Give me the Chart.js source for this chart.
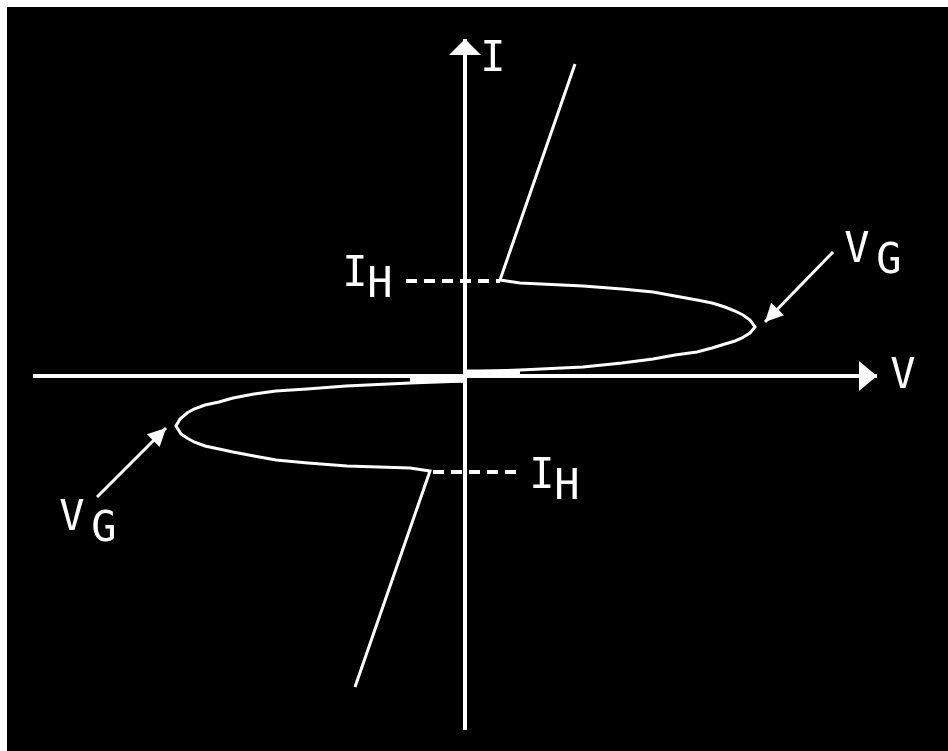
<!DOCTYPE html>
<html lang="en">
<head>
    <meta charset="UTF-8">
    <title>Characteristic I-V</title>
    <style>
        * {
            margin: 0;
            padding: 0;
            box-sizing: border-box;
        }

        body {
            background-color: #ffffff;
            width: 948px;
            height: 751px;
            overflow: hidden;
        }

        .chart-box {
            position: absolute;
            left: 7px;
            top: 7px;
            width: 941px;
            height: 744px;
            background-color: #000000;
        }
    </style>
</head>
<body>

    <div class="chart-box">
        <canvas id="ivChart"></canvas>
    </div>

    <script src="https://cdn.jsdelivr.net/npm/chart.js"></script>
    <script>
        // Ramo superior (1º quadrante): subida íngreme, laço até VG, retorno à origem
        const upperV = [11.0, 3.5, 5.5, 11.8, 15.7, 18.8, 21.0, 23.2, 24.7, 26.0, 27.0, 27.8, 28.5, 29.0,
                        28.5, 27.7, 27.0, 26.0, 24.7, 23.2, 21.0, 18.8, 15.7, 11.8, 5.5, 0];
        const upperI = [31.2, 9.6, 9.3, 9.0, 8.7, 8.4, 8.0, 7.6, 7.3, 6.9, 6.5, 6.1, 5.6, 4.9,
                        4.3, 3.8, 3.5, 3.2, 2.8, 2.4, 2.1, 1.7, 1.3, 0.9, 0.6, 0.4];

        // Ramo inferior (3º quadrante)
        const lowerV = [-11.0, -3.5, -5.5, -11.8, -15.7, -18.9, -21.1, -23.2, -24.6, -26.0, -27.1, -27.8, -28.4, -28.9,
                        -28.5, -27.8, -27.1, -26.0, -24.6, -23.2, -21.1, -18.9, -15.8, -11.9, -5.5, 0];
        const lowerI = [-31.1, -9.5, -9.2, -9.0, -8.7, -8.4, -8.0, -7.6, -7.3, -7.0, -6.6, -6.2, -5.8, -5.0,
                        -4.3, -3.7, -3.3, -2.9, -2.6, -2.2, -1.8, -1.5, -1.3, -1.0, -0.7, -0.5];

        // Corrente de manutenção IH e trechos junto à origem
        const holdV = [[-5.9, 3.5], [-3.2, 5.8]];
        const holdI = [9.5, -9.6];
        const baseV = [[0, 5.5], [-5.5, 0]];
        const baseI = [0.35, -0.35];

        // Eixos
        const axisV = [-43.2, 41.2];
        const axisI = [-35.4, 33.7];

        // Setas indicando VG (início -> ponta)
        const pointerV = [[36.8, 30.0], [-36.8, -29.9]];
        const pointerI = [[12.4, 5.4], [-12.1, -5.2]];

        // Limites das escalas
        const vRange = [-45.8, 48.3];
        const iRange = [-37.5, 36.9];

        function pts(xs, ys) {
            return xs.map((x, k) => ({ x: x, y: ys[k] }));
        }

        const white = '#ffffff';

        const datasets = [
            { data: pts(axisV, [0, 0]), borderWidth: 4, arrow: { len: 18, half: 15 } },
            { data: pts([0, 0], axisI), borderWidth: 4, arrow: { len: 16, half: 16 } },
            { data: pts(upperV, upperI), borderWidth: 3 },
            { data: pts(lowerV, lowerI), borderWidth: 3 },
            { data: pts(baseV[0], [baseI[0], baseI[0]]), borderWidth: 6 },
            { data: pts(baseV[1], [baseI[1], baseI[1]]), borderWidth: 6 },
            { data: pts(holdV[0], [holdI[0], holdI[0]]), borderWidth: 4, borderDash: [11, 7] },
            { data: pts(holdV[1], [holdI[1], holdI[1]]), borderWidth: 4, borderDash: [11, 7] },
            { data: pts(pointerV[0], pointerI[0]), borderWidth: 3, arrow: { len: 18, half: 9 } },
            { data: pts(pointerV[1], pointerI[1]), borderWidth: 3, arrow: { len: 18, half: 9 } }
        ].map(d => Object.assign({
            showLine: true,
            borderColor: white,
            backgroundColor: white,
            pointRadius: 0,
            tension: 0,
            fill: false
        }, d));

        // Rótulos: letra principal + subscrito
        const labels = [
            { text: 'I', sub: '', x: 2.8, y: 30.5 },
            { text: 'V', sub: '', x: 43.8, y: -1.2 },
            { text: 'V', sub: 'G', x: 39.2, y: 11.4, dx: 32 },
            { text: 'V', sub: 'G', x: -39.3, y: -15.4, dx: 32 },
            { text: 'I', sub: 'H', x: -11.0, y: 9.0, dx: 25 },
            { text: 'I', sub: 'H', x: 7.7, y: -11.2, dx: 25 }
        ];

        const diagramExtras = {
            id: 'diagramExtras',
            beforeDraw(chart) {
                const ctx = chart.ctx;
                ctx.save();
                ctx.fillStyle = '#000000';
                ctx.fillRect(0, 0, chart.width, chart.height);
                ctx.restore();
            },
            afterDatasetsDraw(chart) {
                const ctx = chart.ctx;
                const xs = chart.scales.x;
                const ys = chart.scales.y;
                ctx.save();
                ctx.fillStyle = white;

                // pontas de seta no fim de cada linha marcada
                chart.data.datasets.forEach((ds, k) => {
                    if (!ds.arrow) return;
                    const pts = chart.getDatasetMeta(k).data;
                    const a = pts[pts.length - 2];
                    const b = pts[pts.length - 1];
                    const ang = Math.atan2(b.y - a.y, b.x - a.x);
                    const bx = b.x - ds.arrow.len * Math.cos(ang);
                    const by = b.y - ds.arrow.len * Math.sin(ang);
                    const nx = -Math.sin(ang) * ds.arrow.half;
                    const ny = Math.cos(ang) * ds.arrow.half;
                    ctx.beginPath();
                    ctx.moveTo(b.x, b.y);
                    ctx.lineTo(bx + nx, by + ny);
                    ctx.lineTo(bx - nx, by - ny);
                    ctx.closePath();
                    ctx.fill();
                });

                ctx.font = '42px "DejaVu Sans Mono", monospace';
                ctx.textAlign = 'center';
                ctx.textBaseline = 'alphabetic';
                labels.forEach(l => {
                    const px = xs.getPixelForValue(l.x);
                    const py = ys.getPixelForValue(l.y);
                    ctx.fillText(l.text, px, py);
                    if (l.sub) ctx.fillText(l.sub, px + l.dx, py + 11);
                });
                ctx.restore();
            }
        };

        new Chart(document.getElementById('ivChart').getContext('2d'), {
            type: 'scatter',
            data: { datasets: datasets },
            options: {
                responsive: true,
                maintainAspectRatio: false,
                animation: false,
                layout: { padding: 0 },
                plugins: {
                    legend: { display: false },
                    tooltip: { enabled: false }
                },
                scales: {
                    x: { type: 'linear', display: false, min: vRange[0], max: vRange[1] },
                    y: { type: 'linear', display: false, min: iRange[0], max: iRange[1] }
                }
            },
            plugins: [diagramExtras]
        });
    </script>

</body>
</html>
